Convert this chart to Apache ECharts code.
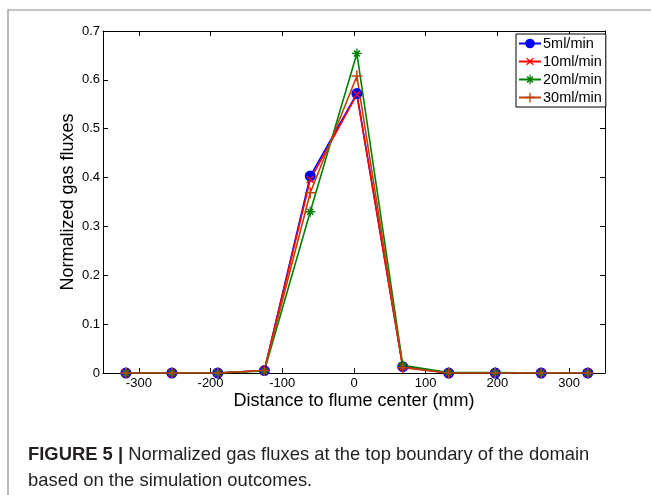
<!DOCTYPE html>
<html>
<head>
<meta charset="utf-8">
<script src="https://cdn.jsdelivr.net/npm/echarts@6/dist/echarts.min.js"></script>
<style>
  html, body { margin: 0; padding: 0; background: #fff; }
  #chart { width: 651px; height: 495px; }
</style>
</head>
<body>
<div id="chart"></div>
<script>
// distance to flume center (mm)
var xPos = [-318, -254, -190, -125, -61, 4, 68, 132, 197, 261, 326];
var flow5 = [0, 0, 0, 0.005, 0.403, 0.572, 0.013, 0, 0, 0, 0];
var flow10 = [0, 0, 0, 0.005, 0.396, 0.570, 0.012, 0, 0, 0, 0];
var flow20 = [0, 0, 0, 0.004, 0.330, 0.654, 0.016, 0.001, 0.001, 0, 0];
var flow30 = [0, 0, 0, 0.005, 0.369, 0.608, 0.011, 0, 0, 0, 0];
var xTicks = [-300, -200, -100, 0, 100, 200, 300];

function pairs(vals) {
  return xPos.map(function (x, i) { return [x, vals[i]]; });
}

var plusPath = 'path://M4.3,0H5.7V4.3H10V5.7H5.7V10H4.3V5.7H0V4.3H4.3Z';
var starPath = 'path://M4.35,0H5.65V4.35H10V5.65H5.65V10H4.35V5.65H0V4.35H4.35Z' +
  'M7.404,1.464L8.536,2.596L6.131,5L8.536,7.404L7.404,8.536L5,6.131L2.596,8.536L1.464,7.404L3.869,5L1.464,2.596L2.596,1.464L5,3.869Z';

var font = '"Liberation Sans", Arial, Helvetica, sans-serif';

var chart = echarts.init(document.getElementById('chart'));

function mkSeries(name, vals, color, symbol, size, rotate) {
  return {
    name: name,
    type: 'line',
    data: pairs(vals),
    symbol: symbol,
    symbolSize: size,
    symbolRotate: rotate || 0,
    showAllSymbol: true,
    animation: false,
    lineStyle: { color: color, width: 1.6 },
    itemStyle: { color: color, borderWidth: 0 },
    emphasis: { disabled: true }
  };
}

var tickStyle = { inside: true, length: 5, lineStyle: { color: '#000' } };

chart.setOption({
  backgroundColor: '#fff',
  animation: false,
  textStyle: { fontFamily: font },
  grid: { left: 103, right: 46, top: 31, bottom: 122, containLabel: false },
  legend: {
    orient: 'vertical',
    left: 516,
    top: 34,
    itemWidth: 22,
    itemHeight: 12,
    itemGap: 3,
    padding: [2, 4, 2, 2],
    borderColor: '#000',
    borderWidth: 1,
    backgroundColor: '#fff',
    textStyle: { fontSize: 14.5, lineHeight: 15, color: '#000', fontFamily: font, padding: [0, 0, 0, -3] },
    data: ['5ml/min', '10ml/min', '20ml/min', '30ml/min']
  },
  xAxis: [{
    type: 'value',
    min: -350,
    max: 350,
    position: 'bottom',
    name: 'Distance to flume center (mm)',
    nameLocation: 'middle',
    nameMoveOverlap: false,
    nameGap: 19,
    nameTextStyle: { fontSize: 18, color: '#000', fontFamily: font },
    axisLine: { onZero: false, lineStyle: { color: '#000', width: 1 } },
    axisTick: Object.assign({ customValues: xTicks }, tickStyle),
    axisLabel: { customValues: xTicks, fontSize: 13, color: '#000', margin: 4, fontFamily: font },
    splitLine: { show: false }
  }, {
    type: 'value',
    min: -350,
    max: 350,
    position: 'top',
    axisLine: { onZero: false, lineStyle: { color: '#000', width: 1 } },
    axisTick: Object.assign({ customValues: xTicks }, tickStyle),
    axisLabel: { show: false },
    splitLine: { show: false }
  }],
  yAxis: [{
    type: 'value',
    min: 0,
    max: 0.7,
    interval: 0.1,
    position: 'left',
    name: 'Normalized gas fluxes',
    nameLocation: 'middle',
    nameMoveOverlap: false,
    nameGap: 26,
    nameTextStyle: { fontSize: 18, color: '#000', fontFamily: font },
    axisLine: { show: true, onZero: false, lineStyle: { color: '#000', width: 1 } },
    axisTick: Object.assign({ show: true }, tickStyle),
    axisLabel: { fontSize: 13, color: '#000', margin: 3, fontFamily: font },
    splitLine: { show: false }
  }, {
    type: 'value',
    min: 0,
    max: 0.7,
    interval: 0.1,
    position: 'right',
    axisLine: { show: true, onZero: false, lineStyle: { color: '#000', width: 1 } },
    axisTick: Object.assign({ show: true }, tickStyle),
    axisLabel: { show: false },
    splitLine: { show: false }
  }],
  series: [
    mkSeries('5ml/min', flow5, '#0000ff', 'circle', 11),
    mkSeries('10ml/min', flow10, '#ff0000', plusPath, 10, 45),
    mkSeries('20ml/min', flow20, '#008000', starPath, 10),
    mkSeries('30ml/min', flow30, '#c0400a', plusPath, 11)
  ],
  graphic: [{
    type: 'polyline',
    silent: true,
    shape: { points: [[8, 495], [8, 10], [651, 10]] },
    style: { stroke: '#8c8c8c', fill: null, lineWidth: 1.2 }
  }, {
    type: 'text',
    left: 28,
    top: 442,
    silent: true,
    style: {
      text: '{b|FIGURE 5 |} Normalized gas fluxes at the top boundary of the domain\nbased on the simulation outcomes.',
      fontFamily: font,
      fontSize: 18.4,
      lineHeight: 26,
      fill: '#231f20',
      rich: {
        b: { fontWeight: 'bold', fontSize: 18.4, fontFamily: font, fill: '#231f20', lineHeight: 26 }
      }
    }
  }]
});
</script>
</body>
</html>
